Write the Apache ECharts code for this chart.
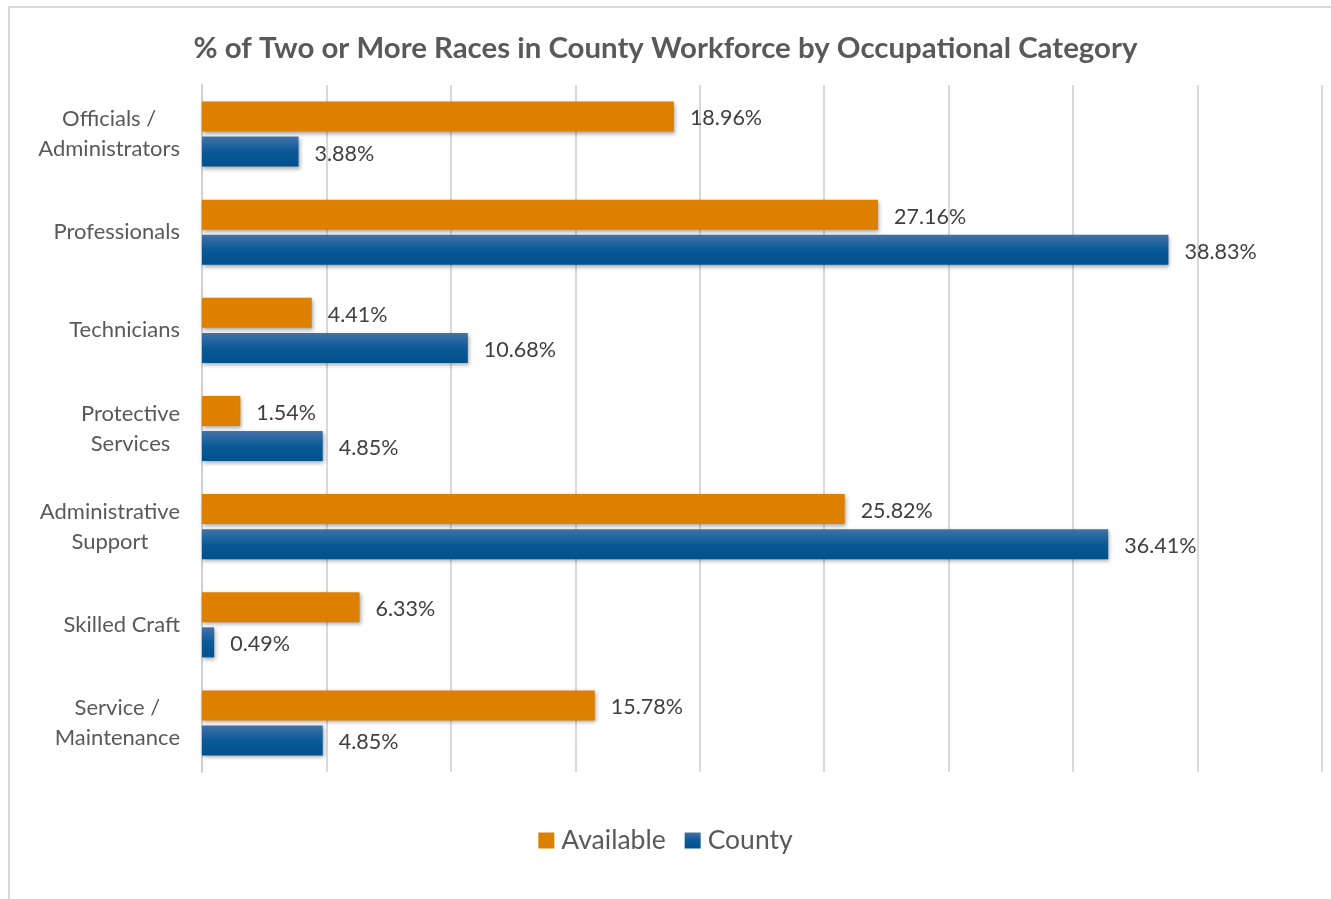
<!DOCTYPE html>
<html>
<head>
<meta charset="utf-8">
<script src="https://cdn.jsdelivr.net/npm/echarts@6/dist/echarts.min.js"></script>
<style>
	html, body { margin: 0; padding: 0; background: #fff; }
	#frame {
		position: absolute; left: 8px; top: 6px; width: 1330px; height: 900px;
		border-left: 2px solid #d9d9d9; border-top: 2px solid #d9d9d9; box-sizing: border-box;
	}
	#chart { position: absolute; left: 0; top: 0; width: 1331px; height: 899px; }
</style>
</head>
<body>
<div id="frame"></div>
<div id="chart"></div>
<script>
const categories = [
	'Officials /\nAdministrators',
	'Professionals',
	'Technicians',
	'Protective\nServices',
	'Administrative\nSupport',
	'Skilled Craft',
	'Service /\nMaintenance'
]
const availableValues = [18.96, 27.16, 4.41, 1.54, 25.82, 6.33, 15.78]
const countyValues = [3.88, 38.83, 10.68, 4.85, 36.41, 0.49, 4.85]

const FONT = 'Lato, "Open Sans", sans-serif'

const chart = echarts.init(document.getElementById('chart'))

const barShadow = {
	shadowBlur: 4,
	shadowColor: 'rgba(0,0,0,0.35)',
	shadowOffsetX: 1,
	shadowOffsetY: 2
}

const labelStyle = {
	show: true,
	position: 'right',
	distance: 16,
	offset: [0, 2],
	color: '#404040',
	fontSize: 21.5,
	fontFamily: FONT,
	formatter: (p) => p.value.toFixed(2) + '%'
}

chart.setOption({
	animation: false,
	title: {
		text: '% of Two or More Races in County Workforce by Occupational Category',
		left: 'center',
		top: 29,
		textStyle: { fontSize: 29.4, fontWeight: 'bold', color: '#595959', fontFamily: FONT }
	},
	legend: {
		bottom: 40,
		left: 'center',
		itemWidth: 16,
		itemHeight: 16,
		itemGap: 19,
		icon: 'rect',
		textStyle: { fontSize: 26.5, color: '#595959', fontFamily: FONT, padding: [0, 0, 0, 2] },
		data: ['Available', 'County']
	},
	grid: { left: 202, right: 9, top: 85, bottom: 127, containLabel: false },
	xAxis: {
		type: 'value',
		min: 0,
		max: 45,
		interval: 5,
		axisLabel: { show: false },
		axisLine: { show: false },
		axisTick: { show: false },
		splitLine: { lineStyle: { color: '#d9d9d9', width: 2 } }
	},
	yAxis: {
		type: 'category',
		inverse: true,
		data: categories,
		axisLine: { lineStyle: { color: '#d0d0d0', width: 2 } },
		axisTick: { length: 6, lineStyle: { color: '#d0d0d0', width: 2 } },
		axisLabel: {
			margin: 22,
			fontFamily: FONT,
			formatter: (v) => v.split('\n').map(l => '{c|' + l + '}').join('\n'),
			rich: {
				c: { align: 'center', fontSize: 22, lineHeight: 30, color: '#595959', fontFamily: FONT }
			}
		}
	},
	series: [
		{
			name: 'Available',
			type: 'bar',
			barWidth: 30,
			barGap: '17%',
			data: availableValues,
			itemStyle: Object.assign({ color: '#dd8000' }, barShadow),
			label: labelStyle
		},
		{
			name: 'County',
			type: 'bar',
			barWidth: 30,
			data: countyValues,
			itemStyle: Object.assign({
				color: new echarts.graphic.LinearGradient(0, 0, 0, 1, [
					{ offset: 0, color: '#4372a8' },
					{ offset: 0.5, color: '#0a5a98' },
					{ offset: 1, color: '#00508e' }
				])
			}, barShadow),
			label: labelStyle
		}
	]
})

window.addEventListener('resize', () => chart.resize())
</script>
</body>
</html>
